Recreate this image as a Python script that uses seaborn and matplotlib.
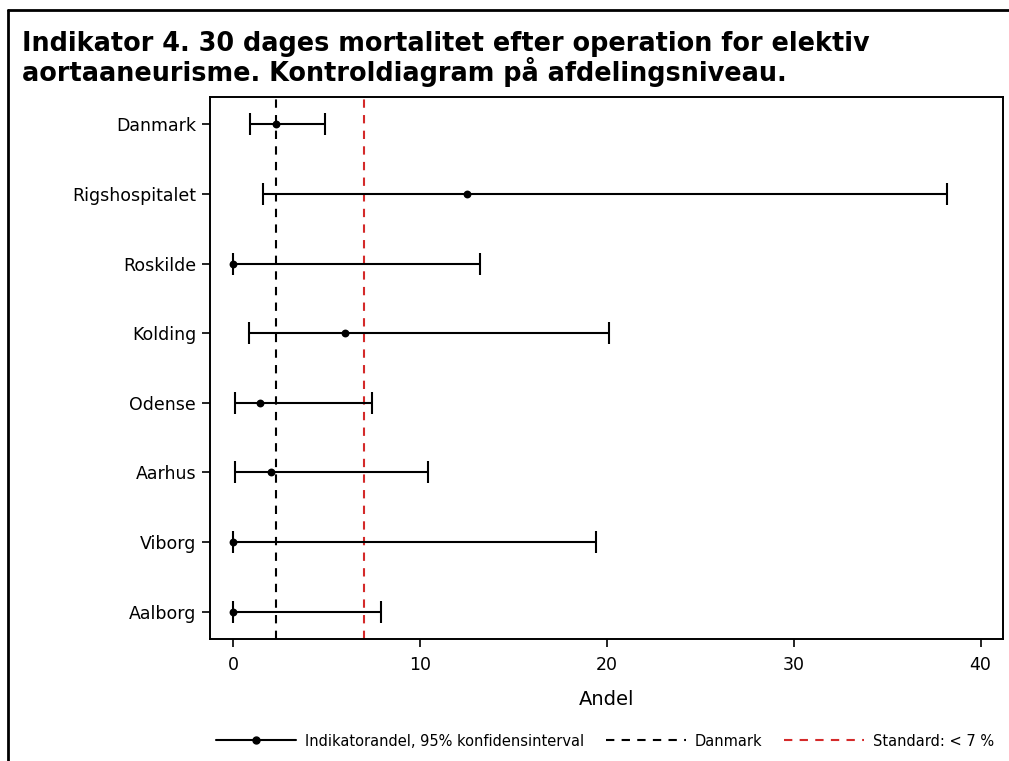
import matplotlib
matplotlib.use("Agg")
import matplotlib.pyplot as plt
from matplotlib.lines import Line2D
import seaborn as sns
import pandas as pd

# data
units = ['Danmark', 'Rigshospitalet', 'Roskilde', 'Kolding', 'Odense', 'Aarhus', 'Viborg', 'Aalborg']
andel = [2.3, 12.5, 0.0, 6.0, 1.4, 2.0, 0.0, 0.0]
lower = [0.9, 1.6, 0.0, 0.85, 0.1, 0.1, 0.0, 0.0]
upper = [4.9, 38.2, 13.2, 20.1, 7.4, 10.4, 19.4, 7.9]
danmark_ref = 2.3
standard = 7

df = pd.DataFrame({'unit': units, 'andel': andel, 'lower': lower, 'upper': upper})
df['pos'] = range(len(df))

sns.set_theme(style="ticks")
plt.rcParams['font.family'] = ['DejaVu Sans']
plt.rcParams.update({'text.color': 'black', 'axes.labelcolor': 'black',
                     'xtick.color': 'black', 'ytick.color': 'black'})

fig = plt.figure(figsize=(10.09, 7.61), dpi=100)
ax = fig.add_axes([210/1009, 1-639/761, (1003-210)/1009, (639-97)/761])

#confidence intervals as error bars with caps
ax.errorbar(df['andel'], df['pos'],
            xerr=[df['andel'] - df['lower'], df['upper'] - df['andel']],
            fmt='none', ecolor='black', elinewidth=1.5, capsize=8, capthick=1.5, zorder=3)
sns.scatterplot(data=df, x='andel', y='pos', color='black', s=32, edgecolor='black',
                linewidth=0, zorder=4, ax=ax)

red = '#d42a2a'
dash = (0, (4, 3.5))
ax.axvline(danmark_ref, color='black', linestyle=dash, linewidth=1.5, zorder=2)
ax.axvline(standard, color=red, linestyle=dash, linewidth=1.5, zorder=2)

ax.set_xlim(-1.25, 41.2)
ax.set_ylim(len(units) - 1 + 0.39, -0.39)
ax.set_yticks(df['pos'])
ax.set_yticklabels(units, fontsize=12.5)
ax.set_xticks([0, 10, 20, 30, 40])
ax.tick_params(axis='x', labelsize=12.5, length=6, width=1.2, pad=6)
ax.tick_params(axis='y', length=6, width=1.2, pad=4)
ax.set_xlabel('Andel', fontsize=14, labelpad=12)
ax.set_ylabel('')
for s in ax.spines.values():
    s.set_linewidth(1.4)
    s.set_color('black')

fig.text(22/1009, 1-44/761, 'Indikator 4. 30 dages mortalitet efter operation for elektiv',
         fontsize=18.4, fontweight='bold', va='center', ha='left')
fig.text(22/1009, 1-72/761, 'aortaaneurisme. Kontroldiagram på afdelingsniveau.',
         fontsize=18.4, fontweight='bold', va='center', ha='left')

# frame lines on top and left of the image
fig.add_artist(Line2D([8/1009, 1.0], [1-10/761, 1-10/761], color='black', linewidth=2))
fig.add_artist(Line2D([8/1009, 8/1009], [0.0, 1-10/761], color='black', linewidth=2))

handles = [
    Line2D([0, 0.5, 1], [0, 0, 0], color='black', linewidth=1.5, marker='o', markersize=5, markevery=[1]),
    Line2D([], [], color='black', linewidth=1.5, linestyle=dash),
    Line2D([], [], color=red, linewidth=1.5, linestyle=dash),
]
leg_labels = ['Indikatorandel, 95% konfidensinterval', 'Danmark', 'Standard: < 7 %']
fig.legend(handles, leg_labels, loc='center', bbox_to_anchor=(605/1009, 1-741/761), ncol=3,
           frameon=False, fontsize=10.5, handlelength=5.5, handletextpad=0.6, columnspacing=1.5)

plt.savefig('out.png', dpi=100)
